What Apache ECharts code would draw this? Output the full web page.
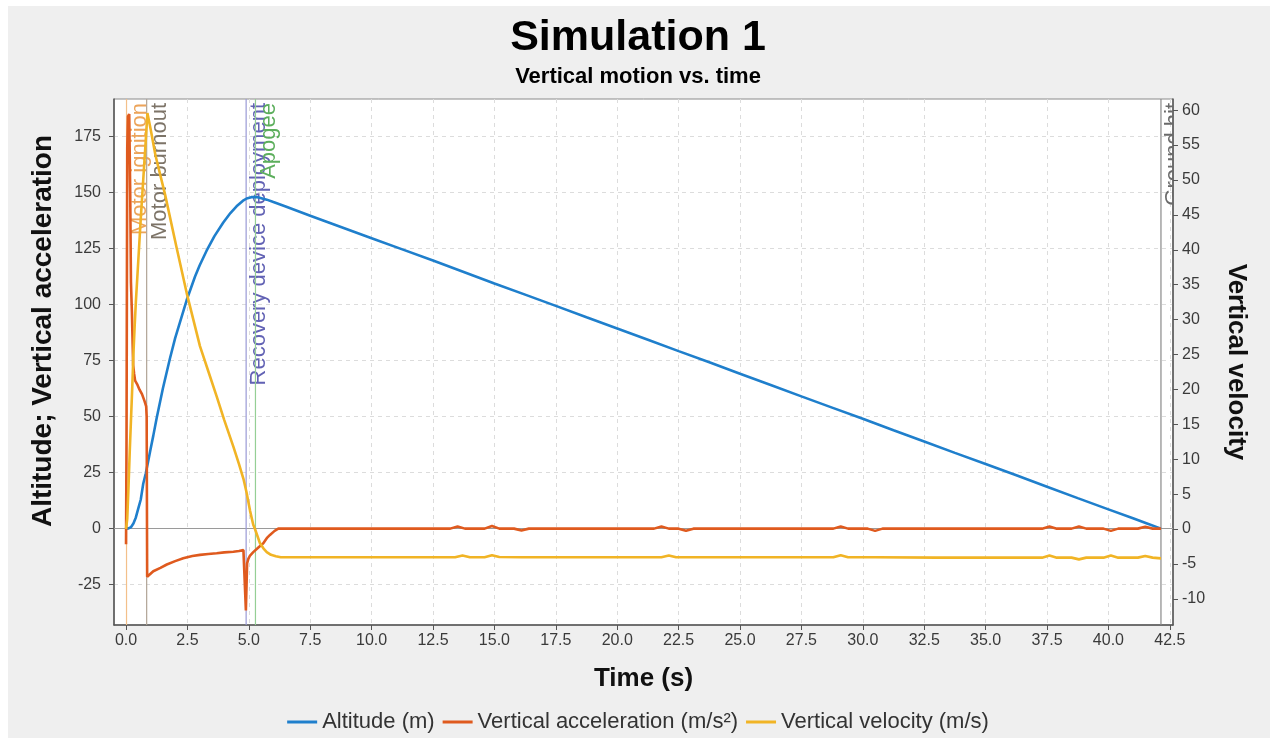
<!DOCTYPE html>
<html><head><meta charset="utf-8">
<script src="https://cdn.jsdelivr.net/npm/echarts@6/dist/echarts.min.js"></script>
<style>html,body{margin:0;padding:0;background:#fff}#c{width:1276px;height:742px}</style>
</head><body><div id="c"></div>
<script>
// ---- data ----
const altTime = [0,0.1,0.2,0.3,0.4,0.5,0.6,0.7,0.8,0.9,1.0,1.11,1.25,1.5,1.79,2.0,2.47,2.81,3.0,3.28,3.6,3.96,4.25,4.5,4.75,4.91,5.1,5.25,5.4,5.73,6.0,6.5,7.5,8.75,10,11.25,12.5,13.75,15,16.25,17.5,18.75,20,21.25,22.5,23.75,25,26.25,27.5,28.75,30,31.25,32.5,33.75,35,36.25,37.5,38.75,40,41,41.6,42.14];
const altitude = [0,0.1,0.6,2.3,5,9,13,20,24.5,30,35.5,41.5,49.5,62.5,76,85,102,112.5,117.5,124,130.5,136.6,140.8,143.8,146.2,147.3,147.9,148,147.8,146.8,145.7,143.7,139.6,134.6,129.6,124.6,119.6,114.5,109.4,104.4,99.4,94.3,89.3,84.3,79.2,74.2,69.1,64.1,59.0,54.0,49.0,43.9,38.9,33.8,28.8,23.8,18.7,13.6,8.6,4.6,2.2,0];

const accTime = [0,0.02,0.05,0.08,0.13,0.17,0.2,0.24,0.27,0.29,0.33,0.37,0.45,0.55,0.65,0.75,0.82,0.84,0.86,0.9,1.11,1.4,1.66,2.0,2.33,2.7,3.01,3.35,3.69,4.0,4.37,4.6,4.78,4.85,4.88,4.93,4.98,5.05,5.18,5.4,5.59,5.75,5.86,6.05,6.2,8,10,12,13.2,13.5,13.8,14.6,14.9,15.2,15.8,16.1,16.4,18,20,21.5,21.8,22.1,22.5,22.8,23.1,25,28.8,29.1,29.4,30.2,30.5,30.8,33,35,37.3,37.6,37.9,38.5,38.8,39.1,39.8,40.1,40.4,41.2,41.5,41.8,42.14];
const acceleration = [-7,40,170,184,185,150,110,96,82,73,69,66,64.5,62,60,57,54.5,50,-21.5,-21,-19,-17.5,-16,-14.5,-13.2,-12.2,-11.7,-11.3,-11,-10.6,-10.3,-10,-9.6,-9.8,-36.5,-15.5,-13.5,-12,-10.5,-8.3,-6.5,-4,-2.8,-1,0,0,0,0,0,1,0,0,1.2,0,0,-0.8,0,0,0,0,1,0,0,-0.9,0,0,0,1,0,0,-1,0,0,0,0,0.9,0,0,1,0,0,-1,0,0,0.8,0,0];

const velTime = [0,0.05,0.1,0.15,0.2,0.25,0.3,0.35,0.4,0.5,0.6,0.7,0.8,0.87,1.0,1.2,1.59,2.06,2.47,3.01,3.35,3.69,4.0,4.37,4.6,4.78,4.91,5.05,5.18,5.25,5.35,5.45,5.6,5.73,5.9,6.1,6.3,8,10,12,13.4,13.7,14.0,14.6,14.9,15.2,16.1,18,20,21.8,22.1,22.4,25,28.8,29.1,29.4,30.5,33,35,37.3,37.6,37.9,38.5,38.8,39.1,39.8,40.1,40.4,41.2,41.5,41.8,42.14];
const velocity = [0,1.5,6,11,15.5,20,25,29,32.5,38.5,44.5,50,55.5,59.6,57.3,53.5,47.9,40.3,33.8,26.2,22.6,19,15.6,11.8,9.3,7.2,5.2,2.6,0.6,0,-1,-2,-2.8,-3.3,-3.7,-3.9,-4.05,-4.05,-4.05,-4.05,-4.05,-3.8,-4.05,-4.05,-3.75,-4.0,-4.05,-4.05,-4.05,-4.05,-3.8,-4.05,-4.05,-4.05,-3.75,-4.05,-4.05,-4.1,-4.1,-4.1,-3.8,-4.1,-4.1,-4.35,-4.1,-4.1,-3.8,-4.1,-4.1,-3.85,-4.1,-4.2];

const eventNames = ['Motor ignition','Motor burnout','Recovery device deployment','Apogee','Ground hit'];
const eventTimes = [0.02,0.84,4.89,5.27,42.14];

const xTicks = [0,2.5,5,7.5,10,12.5,15,17.5,20,22.5,25,27.5,30,32.5,35,37.5,40,42.5];
const leftTicks = [-25,0,25,50,75,100,125,150,175];
const rightTicks = [-10,-5,0,5,10,15,20,25,30,35,40,45,50,55,60];
const seriesNames = ['Altitude (m)','Vertical acceleration (m/s²)','Vertical velocity (m/s)'];

// ---- styling ----
const FONT = 'Liberation Sans';
const eventLineColors = ['#f3c08a','#b0a496','#9a9ad6','#95cf95','#8a8a8a'];
const eventTextColors = ['#eca45a','#7d7468','#6262b4','#5cae5c','#6a6a6a'];
const zip = (a,b) => a.map((t,i)=>[t,b[i]]);

const chart = echarts.init(document.getElementById('c'), null, {renderer:'canvas'});
const tickLabel = {fontFamily:FONT, fontSize:16, color:'#3a3a3a'};
chart.setOption({
  animation:false,
  backgroundColor:'#ffffff',
  textStyle:{fontFamily:FONT},
  graphic:{elements:[{type:'rect', z:-10, silent:true, shape:{x:8,y:6,width:1262,height:732}, style:{fill:'#efefef'}}]},
  title:{
    text:'Simulation 1', subtext:'Vertical motion vs. time', left:'center', top:12, itemGap:6,
    textStyle:{fontFamily:FONT, fontSize:43, fontWeight:'bold', color:'#000'},
    subtextStyle:{fontFamily:FONT, fontSize:22, fontWeight:'bold', color:'#000'}
  },
  legend:{
    bottom:4, left:'center', itemWidth:30, itemHeight:3, itemGap:8, icon:'rect',
    textStyle:{fontFamily:FONT, fontSize:22, color:'#333'},
    data:seriesNames
  },
  grid:{left:114, right:103, top:99, bottom:117, show:true, backgroundColor:'#ffffff', borderColor:'#8a8a8a', borderWidth:1},
  xAxis:{
    type:'value', min:-0.49, max:42.63,
    name:'Time (s)', nameLocation:'middle', nameGap:41,
    nameTextStyle:{fontFamily:FONT, fontSize:26, fontWeight:'bold', color:'#111'},
    axisLine:{show:true, onZero:false, lineStyle:{color:'#555', width:1.5}},
    axisTick:{show:true, customValues:xTicks, length:5, lineStyle:{color:'#555'}},
    axisLabel:{customValues:xTicks, formatter:v=>v.toFixed(1), margin:8, ...tickLabel},
    splitLine:{show:true, lineStyle:{type:[4,4], color:'#dcdcdc', width:1}}
  },
  yAxis:[{
    type:'value', min:-43, max:191.7, position:'left',
    name:'Altitude; Vertical acceleration', nameLocation:'middle', nameGap:57,
    nameTextStyle:{fontFamily:FONT, fontSize:28, fontWeight:'bold', color:'#111', padding:[0,0,0,62]},
    axisLine:{show:true, onZero:false, lineStyle:{color:'#555', width:1.5}},
    axisTick:{show:true, customValues:leftTicks, length:5, lineStyle:{color:'#555'}},
    axisLabel:{customValues:leftTicks, margin:13, ...tickLabel},
    splitLine:{show:true, lineStyle:{type:[4,4], color:'#dcdcdc', width:1}}
  },{
    type:'value', min:-13.75, max:61.6, position:'right',
    name:'Vertical velocity', nameLocation:'middle', nameGap:50, nameRotate:-90,
    nameTextStyle:{fontFamily:FONT, fontSize:26, fontWeight:'bold', color:'#111'},
    axisLine:{show:true, onZero:false, lineStyle:{color:'#555', width:1.5}},
    axisTick:{show:true, customValues:rightTicks, length:5, lineStyle:{color:'#555'}},
    axisLabel:{customValues:rightTicks, margin:9, ...tickLabel},
    splitLine:{show:false}
  }],
  series:[{
    name:seriesNames[0], type:'line', yAxisIndex:0, symbol:'none', z:3,
    lineStyle:{color:'#1f7fcc', width:2.6}, itemStyle:{color:'#1f7fcc'},
    data:zip(altTime, altitude)
  },{
    name:seriesNames[1], type:'line', yAxisIndex:0, symbol:'none', z:3,
    lineStyle:{color:'#df5a1e', width:2.6}, itemStyle:{color:'#df5a1e'},
    data:zip(accTime, acceleration)
  },{
    name:seriesNames[2], type:'line', yAxisIndex:1, symbol:'none', z:3,
    lineStyle:{color:'#f1b425', width:2.6}, itemStyle:{color:'#f1b425'},
    data:zip(velTime, velocity)
  },{
    name:'zero', type:'line', yAxisIndex:0, symbol:'none', z:1, data:[],
    markLine:{silent:true, z:1, symbol:['none','none'], animation:false,
      data:[{yAxis:0, lineStyle:{color:'#9a9a9a', width:1, type:'solid'}, label:{show:false}}]}
  },{
    name:'events', type:'custom', yAxisIndex:0, z:2, clip:true, silent:true,
    data:eventTimes.map((t,i)=>[t,i]),
    renderItem:(params, api)=>{
      const i = api.value(1);
      const p = api.coord([api.value(0), 0]);
      const cs = params.coordSys;
      return {type:'group', children:[
        {type:'line', shape:{x1:p[0], y1:cs.y, x2:p[0], y2:cs.y+cs.height},
         style:{stroke:eventLineColors[i], lineWidth:1.2}},
        {type:'text', x:p[0]+2, y:cs.y+4, rotation:Math.PI/2,
         style:{text:eventNames[i], fill:eventTextColors[i], font:'22px "Liberation Sans"',
                align:'right', verticalAlign:'top', textAlign:'right', textVerticalAlign:'top'}}
      ]};
    }
  }]
});
</script></body></html>
